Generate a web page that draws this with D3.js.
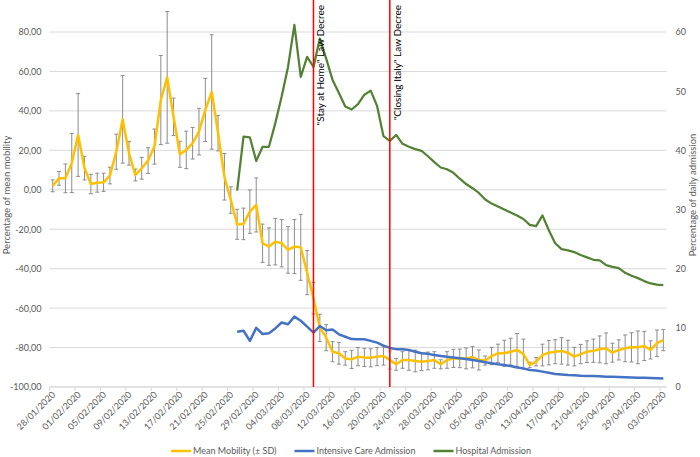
<html>
<head>
<meta charset="utf-8">
<script src="https://cdn.jsdelivr.net/npm/d3@7"></script>
<style>
body { margin: 0; background: #fff; }
text { font-family: Lato, "Liberation Sans", sans-serif; }
</style>
</head>
<body>
<div id="chart"></div>
<script>
// categories: one per day, 28/01/2020 .. 03/05/2020
const startDay = new Date(2020, 0, 28);
const dayCount = 97;
const labelEvery = 4;

// Mean mobility (%) and its SD, one value per day
const mobility = [
  2.0, 5.8, 5.8, 13.6, 27.8, 11.0, 2.9, 3.6, 3.8, 7.2,
  19.3, 35.7, 18.5, 7.5, 10.9, 14.8, 21.9, 45.5, 57.0, 37.0,
  18.0, 20.2, 23.6, 29.5, 40.5, 49.6, 28.7, 6.6, -5.2, -17.5,
  -17.3, -11.1, -7.7, -27.1, -28.8, -26.3, -27.1, -30.5, -28.8, -29.2,
  -42.0, -55.0, -70.0, -75.0, -82.1, -82.9, -85.5, -86.0, -84.6, -85.0,
  -85.2, -84.6, -84.3, -86.3, -88.5, -86.3, -86.3, -86.8, -87.2, -86.8,
  -86.3, -88.5, -86.3, -85.5, -85.5, -85.5, -84.9, -86.3, -86.6, -84.3,
  -82.9, -82.9, -82.1, -81.2, -83.3, -88.8, -87.2, -83.8, -82.6, -82.1,
  -81.7, -82.6, -84.6, -83.3, -82.1, -81.6, -80.9, -80.4, -82.6, -81.2,
  -80.4, -79.9, -79.9, -79.2, -81.2, -77.8, -76.2
];
const mobilitySD = [
  3.0, 3.5, 7.3, 15.0, 21.0, 6.0, 4.9, 4.8, 4.6, 4.2,
  8.9, 22.2, 6.0, 3.0, 5.5, 6.5, 8.9, 22.6, 33.4, 9.5,
  6.6, 9.5, 8.0, 11.8, 16.0, 29.0, 9.0, 11.8, 6.7, 7.6,
  8.0, 11.0, 13.7, 9.7, 9.5, 11.8, 12.0, 11.8, 13.7, 16.7,
  11.2, 8.0, 6.9, 6.6, 5.1, 5.5, 3.4, 4.6, 4.6, 4.6,
  4.6, 4.6, 4.6, 4.6, 3.0, 4.2, 5.2, 5.5, 4.5, 4.5,
  4.2, 2.3, 4.2, 4.6, 4.7, 5.3, 5.4, 5.1, 2.3, 4.4,
  4.6, 6.6, 6.8, 8.3, 7.6, 1.4, 2.1, 5.5, 6.2, 6.1,
  6.7, 6.3, 4.7, 4.9, 5.5, 5.9, 6.8, 7.8, 4.8, 5.1,
  6.8, 7.4, 8.3, 7.4, 4.6, 6.7, 5.4
];

// admissions (% of daily admission) start on day index 29 (26/02/2020)
const admissionStart = 29;
const intensiveCare = [
  9.35, 9.5, 7.8, 10.0, 8.96, 9.07, 9.9, 10.9, 10.6, 11.9,
  11.2, 10.2, 9.2, 10.3, 9.6, 9.7, 8.9, 8.5, 8.1, 8.06,
  8.06, 7.8, 7.5, 7.0, 6.6, 6.4, 6.37, 6.25, 5.97, 5.7,
  5.6, 5.4, 5.24, 5.1, 5.0, 4.85, 4.75, 4.56, 4.4, 4.17,
  4.0, 3.83, 3.7, 3.55, 3.3, 3.15, 2.87, 2.8, 2.6, 2.4,
  2.2, 2.13, 2.03, 1.97, 1.9, 1.86, 1.85, 1.8, 1.74, 1.72,
  1.68, 1.63, 1.6, 1.57, 1.55, 1.52, 1.48, 1.45
];
const hospital = [
  33.2, 42.3, 42.2, 38.2, 40.6, 40.6, 44.6, 49.1, 54.1, 61.2,
  52.4, 55.8, 54.1, 58.9, 55.5, 51.9, 49.7, 47.4, 46.9, 47.8,
  49.4, 50.1, 47.5, 42.4, 41.6, 42.6, 41.1, 40.6, 40.2, 39.9,
  39.0, 38.0, 37.1, 36.8, 36.2, 35.2, 34.3, 33.6, 32.8, 31.7,
  31.0, 30.5, 30.0, 29.5, 29.0, 28.4, 27.4, 27.2, 29.0, 26.5,
  24.3, 23.3, 23.1, 22.8, 22.3, 21.9, 21.5, 21.4, 20.6, 20.3,
  20.1, 19.3, 18.8, 18.4, 17.9, 17.5, 17.3, 17.2
];

const leftTicks = [80, 60, 40, 20, 0, -20, -40, -60, -80, -100];
const rightTicks = [0, 10, 20, 30, 40, 50, 60];

// law decrees, as day index (09/03 and 21/03)
const decreeDays = [41, 53];
const decreeLabels = ['"Stay at Home" Law Decree', '"Closing Italy" Law Decree'];

const seriesNames = ["Mean Mobility (\u00b1 SD)", "Intensive Care Admission", "Hospital Admission"];
const seriesColors = ["#FFC000", "#4472C4", "#548235"];

const W = 700, H = 457;
const plot = { left: 49.5, right: 666.5, top: 32, bottom: 387 };

const svg = d3.select("#chart").append("svg")
  .attr("width", W).attr("height", H);

const days = d3.range(dayCount);
const fmt = d3.timeFormat("%d/%m/%Y");
const dayLabel = i => fmt(d3.timeDay.offset(startDay, i));

const x = d3.scaleBand().domain(days).range([plot.left, plot.right]).padding(0);
const cx = i => x(i) + x.bandwidth() / 2;

const yL = d3.scaleLinear().domain([-100, 80]).range([plot.bottom, plot.top]);
const yR = d3.scaleLinear().domain([0, 60]).range([plot.bottom, plot.top]);

// gridlines
svg.append("g")
  .selectAll("line")
  .data(leftTicks)
  .enter()
  .append("line")
  .attr("x1", plot.left).attr("x2", plot.right)
  .attr("y1", d => yL(d)).attr("y2", d => yL(d))
  .attr("stroke", "#d9d9d9").attr("stroke-width", 1);

// left axis (comma decimals, plain hyphen for minus)
const leftAxis = d3.axisLeft(yL).tickValues(leftTicks).tickSize(0).tickPadding(8)
  .tickFormat(d => d3.format(".2f")(d).replace(".", ",").replace("\u2212", "-"));
svg.append("g").attr("transform", `translate(${plot.left},0)`).call(leftAxis)
  .call(g => g.select(".domain").remove())
  .selectAll("text").attr("fill", "#595959").style("font-size", "9px");

// right axis
const rightAxis = d3.axisRight(yR).tickValues(rightTicks).tickSize(0).tickPadding(9);
svg.append("g").attr("transform", `translate(${plot.right},0)`).call(rightAxis)
  .call(g => g.select(".domain").remove())
  .selectAll("text").attr("fill", "#595959").style("font-size", "9px");

// bottom axis
const bottomDays = days.filter(i => i % labelEvery === 0);
const xg = svg.append("g");
xg.append("line")
  .attr("x1", plot.left).attr("x2", plot.right)
  .attr("y1", plot.bottom).attr("y2", plot.bottom)
  .attr("stroke", "#d9d9d9");
xg.selectAll(".tk")
  .data(bottomDays)
  .enter()
  .append("line")
  .attr("x1", d => x(d)).attr("x2", d => x(d))
  .attr("y1", plot.bottom).attr("y2", plot.bottom + 4)
  .attr("stroke", "#d9d9d9");
xg.selectAll(".lb")
  .data(bottomDays)
  .enter()
  .append("text")
  .attr("transform", d => `translate(${cx(d) + 1},${plot.bottom + 6}) rotate(-45)`)
  .attr("text-anchor", "end")
  .attr("dy", "0.35em")
  .attr("fill", "#595959")
  .style("font-size", "9px")
  .text(d => dayLabel(d));

// axis titles
svg.append("text")
  .attr("transform", "translate(10,195) rotate(-90)")
  .attr("text-anchor", "middle")
  .attr("fill", "#595959")
  .style("font-size", "9.5px")
  .text("Percentage of mean mobility");

svg.append("text")
  .attr("transform", "translate(696,195) rotate(-90)")
  .attr("text-anchor", "middle")
  .attr("fill", "#595959")
  .style("font-size", "9.5px")
  .text("Percentage of daily admission");

// error bars
const eb = svg.append("g").attr("stroke", "#8c8c8c").attr("stroke-width", 1);
days.forEach(i => {
  const top = yL(mobility[i] + mobilitySD[i]), bot = yL(mobility[i] - mobilitySD[i]);
  eb.append("line").attr("x1", cx(i)).attr("x2", cx(i)).attr("y1", top).attr("y2", bot);
  eb.append("line").attr("x1", cx(i) - 2).attr("x2", cx(i) + 2).attr("y1", top).attr("y2", top);
  eb.append("line").attr("x1", cx(i) - 2).attr("x2", cx(i) + 2).attr("y1", bot).attr("y2", bot);
});

// series lines
svg.append("path")
  .datum(days)
  .attr("fill", "none")
  .attr("stroke", seriesColors[0])
  .attr("stroke-width", 2.5)
  .attr("stroke-linejoin", "round")
  .attr("d", d3.line().x(i => cx(i)).y(i => yL(mobility[i])));

svg.append("path")
  .datum(intensiveCare)
  .attr("fill", "none")
  .attr("stroke", seriesColors[1])
  .attr("stroke-width", 2.5)
  .attr("stroke-linejoin", "round")
  .attr("d", d3.line().x((d, k) => cx(admissionStart + k)).y(d => yR(d)));

svg.append("path")
  .datum(hospital)
  .attr("fill", "none")
  .attr("stroke", seriesColors[2])
  .attr("stroke-width", 2.25)
  .attr("stroke-linejoin", "round")
  .attr("d", d3.line().x((d, k) => cx(admissionStart + k)).y(d => yR(d)));

// decree markers
decreeDays.forEach((d, k) => {
  svg.append("line")
    .attr("x1", cx(d)).attr("x2", cx(d))
    .attr("y1", yL(100)).attr("y2", plot.bottom)
    .attr("stroke", "#FF0000").attr("stroke-width", 1.5);
  svg.append("text")
    .attr("transform", `translate(${cx(d) + 11},5) rotate(-90)`)
    .attr("text-anchor", "end")
    .attr("fill", "#000")
    .style("font-size", "10px")
    .text(decreeLabels[k]);
});

// legend
const lg = svg.append("g");
let lx = 0;
seriesNames.forEach((name, k) => {
  const item = lg.append("g").attr("transform", `translate(${lx},0)`);
  item.append("line").attr("x1", 0).attr("x2", 20).attr("y1", 0).attr("y2", 0)
    .attr("stroke", seriesColors[k]).attr("stroke-width", 2.5);
  const t = item.append("text").attr("x", 22).attr("dy", "0.35em")
    .attr("fill", "#595959").style("font-size", "9px").text(name);
  lx += 22 + t.node().getComputedTextLength() + 18;
});
lg.attr("transform", `translate(${351 - (lx - 18) / 2},451)`);
</script>
</body>
</html>
